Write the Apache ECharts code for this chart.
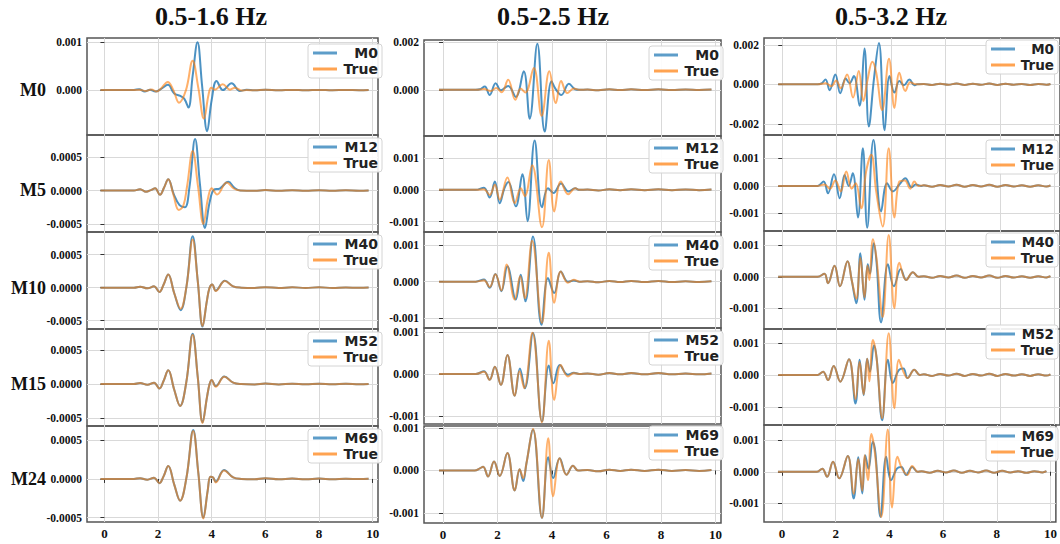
<!DOCTYPE html>
<html><head><meta charset="utf-8">
<script src="https://cdn.jsdelivr.net/npm/echarts@6/dist/echarts.min.js"></script>
<style>html,body{margin:0;padding:0;background:#fff}#c{width:1060px;height:544px}</style>
</head><body><div id="c"></div>
<script>
// ---------- DATA ----------
const bandTitles = ['0.5-1.6 Hz', '0.5-2.5 Hz', '0.5-3.2 Hz'];
const rowLabels = ['M0', 'M5', 'M10', 'M15', 'M24'];
const modelNames = ['M0', 'M12', 'M40', 'M52', 'M69'];
const trueName = 'True';
const xTicks = [0, 2, 4, 6, 8, 10];
const xTickLabels = ['0', '2', '4', '6', '8', '10'];

// column 1 values in units of 1e-4, columns 2 and 3 in units of 1e-3
const yTicks16r1 = [0, 10];          const yLabels16r1 = ['0.000', '0.001'];
const yTicks16 = [-5, 0, 5];         const yLabels16 = ['-0.0005', '0.0000', '0.0005'];
const yTicks25r1 = [0, 2];           const yLabels25r1 = ['0.000', '0.002'];
const yTicks25 = [-1, 0, 1];         const yLabels25 = ['-0.001', '0.000', '0.001'];
const yTicks32r1 = [-2, 0, 2];       const yLabels32r1 = ['-0.002', '0.000', '0.002'];
const yTicks32 = [-1, 0, 1];         const yLabels32 = ['-0.001', '0.000', '0.001'];

const tail16 = [[5.6,-0.05],[6.0,0.08],[6.5,-0.05],[7.0,0.05],[7.5,-0.03],[8.0,0.05],[8.5,-0.03],[9.0,0.03],[9.5,-0.02],[9.85,0.02]];
const tail25 = [[5.3,0.01],[5.7,-0.02],[6.1,0.02],[6.5,-0.01],[6.9,0.02],[7.4,-0.01],[7.9,0.02],[8.4,-0.01],[8.9,0.01],[9.4,-0.01],[9.85,0.01]];
const tail32 = [[5.2,0.02],[5.5,-0.03],[5.8,0.03],[6.1,-0.02],[6.4,0.04],[6.7,-0.03],[7.0,0.03],[7.3,-0.02],[7.6,0.04],[7.9,-0.03],[8.2,0.03],[8.5,-0.02],[8.8,0.02],[9.1,-0.03],[9.4,0.02],[9.7,-0.02],[9.85,0.02]];

// 0.5-1.6 Hz
const m16r1 = [[-0.15,0],[1.1,0.05],[1.3,0.2],[1.5,-0.3],[1.7,0.1],[1.9,-0.3],[2.1,0.2],[2.37,1.1],[2.6,-0.7],[2.83,-1.2],[2.98,-1.8],[3.13,-3.6],[3.29,3.0],[3.47,9.9],[3.64,1.0],[3.83,-8.5],[4.0,-2.0],[4.18,1.9],[4.42,0.0],[4.74,1.4],[5.05,-0.2],[5.3,0.1]];
const t16r1 = [[-0.15,0],[1.1,0],[1.3,0.1],[1.55,-0.2],[1.75,0.15],[1.95,-0.3],[2.1,0.3],[2.36,1.7],[2.57,0],[2.78,-2.6],[3.04,0],[3.29,6.1],[3.5,0.5],[3.71,-5.9],[3.88,-1.0],[3.98,0.5],[4.12,0.1],[4.41,1.2],[4.68,0.1],[4.87,0.5],[5.12,-0.1],[5.3,0]];
const m16r2 = [[-0.15,0],[1.1,0],[1.33,0.2],[1.55,-0.2],[1.75,0.1],[1.89,0.35],[2.07,-0.65],[2.22,0.4],[2.38,1.7],[2.58,-0.5],[2.8,-2.2],[3.0,-2.5],[3.17,0.5],[3.38,7.7],[3.56,1.0],[3.75,-5.6],[3.92,-1.8],[4.08,0.1],[4.3,0.3],[4.62,1.3],[4.85,0.4],[5.06,0]];
const t16r2 = [[-0.15,0],[1.1,0],[1.33,0.2],[1.55,-0.2],[1.75,0.1],[1.89,0.35],[2.07,-0.65],[2.22,0.4],[2.38,1.7],[2.57,-0.6],[2.77,-2.9],[2.94,-2.3],[3.08,0.6],[3.29,5.9],[3.49,0.6],[3.69,-5.0],[3.86,-1.2],[4.0,0.35],[4.2,-0.6],[4.56,1.2],[4.82,0.3],[5.06,0]];
const m16r3 = [[-0.15,0],[1.1,0],[1.33,0.15],[1.6,-0.1],[1.85,0.2],[2.05,-0.65],[2.2,0.4],[2.38,2.0],[2.6,-0.8],[2.84,-3.4],[3.06,0.2],[3.29,7.8],[3.48,1.0],[3.66,-5.9],[3.82,-2.0],[3.92,0],[4.02,0.5],[4.15,-0.45],[4.49,1.05],[4.8,0.2],[5.1,0]];
const t16r3 = [[-0.15,0],[1.1,0],[1.33,0.15],[1.6,-0.1],[1.85,0.2],[2.05,-0.65],[2.2,0.4],[2.38,2.0],[2.6,-0.8],[2.84,-3.2],[3.06,0.2],[3.29,7.3],[3.48,1.0],[3.66,-5.8],[3.82,-2.0],[3.92,0],[4.02,0.5],[4.15,-0.5],[4.49,1.0],[4.8,0.2],[5.1,0]];
const m16r4 = [[-0.15,0],[1.1,0],[1.33,0.15],[1.6,-0.1],[1.85,0.2],[2.05,-0.65],[2.2,0.4],[2.38,2.0],[2.6,-0.8],[2.82,-3.2],[3.05,0.2],[3.29,7.35],[3.48,1.0],[3.66,-5.6],[3.82,-2.0],[3.92,0],[4.0,0.6],[4.15,-0.3],[4.47,1.1],[4.8,0.2],[5.1,0]];
const t16r4 = [[-0.15,0],[1.1,0],[1.33,0.15],[1.6,-0.1],[1.85,0.2],[2.05,-0.65],[2.2,0.4],[2.38,2.0],[2.6,-0.8],[2.82,-3.2],[3.05,0.2],[3.29,7.2],[3.48,1.0],[3.66,-5.7],[3.82,-2.0],[3.92,0],[4.0,0.6],[4.15,-0.4],[4.47,1.05],[4.8,0.2],[5.1,0]];
const m16r5 = [[-0.15,0],[1.1,0],[1.33,0.1],[1.6,-0.1],[1.85,0.15],[2.05,-0.55],[2.2,0.3],[2.38,1.67],[2.6,-0.7],[2.82,-2.8],[3.06,0.2],[3.31,6.3],[3.5,0.8],[3.69,-5.0],[3.85,-1.5],[3.95,0.3],[4.05,0.2],[4.15,-0.35],[4.46,1.15],[4.8,0.2],[5.1,0]];
const t16r5 = [[-0.15,0],[1.1,0],[1.33,0.1],[1.6,-0.1],[1.85,0.15],[2.05,-0.55],[2.2,0.3],[2.38,1.67],[2.6,-0.7],[2.82,-2.8],[3.06,0.2],[3.31,6.2],[3.5,0.8],[3.69,-5.1],[3.85,-1.5],[3.95,0.3],[4.05,0.2],[4.15,-0.45],[4.46,1.1],[4.8,0.2],[5.1,0]];

// 0.5-2.5 Hz
const m25r1 = [[-0.15,0],[1.2,0],[1.35,0.02],[1.53,0.14],[1.71,-0.22],[1.93,0.28],[2.12,-0.02],[2.39,0.16],[2.67,-0.3],[2.96,0.78],[3.18,-1.22],[3.46,1.94],[3.73,-1.76],[3.98,0.36],[4.12,0.05],[4.34,-0.22],[4.62,0.25],[4.85,0.02],[5.0,0]];
const t25r1 = [[-0.15,0],[1.2,0],[1.5,0.03],[1.75,-0.05],[1.95,0.08],[2.15,-0.1],[2.39,0.42],[2.65,-0.42],[2.85,0.05],[3.02,-0.12],[3.33,0.92],[3.62,-1.1],[3.9,0.78],[4.14,-0.56],[4.33,0.37],[4.56,-0.14],[4.8,0.05],[5.0,0]];
const m25r2 = [[-0.15,0],[1.2,0],[1.5,0.07],[1.71,-0.24],[1.9,0.26],[2.08,-0.42],[2.25,0.05],[2.4,0.25],[2.67,-0.52],[2.91,0.49],[3.1,-0.99],[3.36,1.56],[3.63,-0.55],[3.85,0.05],[4.05,-0.1],[4.33,0.2],[4.6,-0.05],[4.85,0.05],[5.0,0]];
const t25r2 = [[-0.15,0],[1.2,0],[1.5,0.02],[1.71,-0.16],[1.9,0.16],[2.08,-0.31],[2.36,0.39],[2.63,-0.42],[2.85,0.05],[3.0,-0.2],[3.27,0.78],[3.63,-1.18],[3.88,0.94],[4.08,-0.68],[4.32,0.26],[4.59,-0.14],[4.85,0.05],[5.0,0]];
const m25r3 = [[-0.15,0],[1.2,0],[1.5,0.06],[1.71,-0.17],[1.92,0.21],[2.14,-0.26],[2.36,0.42],[2.67,-0.49],[2.85,0.19],[3.02,-0.54],[3.3,1.24],[3.61,-1.18],[3.85,0.1],[4.08,-0.31],[4.32,0.28],[4.58,0.0],[4.8,0.03],[5.0,0]];
const t25r3 = [[-0.15,0],[1.2,0],[1.5,0.04],[1.71,-0.15],[1.92,0.2],[2.14,-0.24],[2.33,0.47],[2.63,-0.49],[2.83,0.15],[3.0,-0.45],[3.27,1.12],[3.63,-1.13],[3.88,0.79],[4.08,-0.58],[4.32,0.28],[4.58,-0.03],[4.8,0.05],[5.0,0]];
const m25r4 = [[-0.15,0],[1.2,0],[1.5,0.06],[1.71,-0.14],[1.9,0.17],[2.12,-0.26],[2.36,0.45],[2.63,-0.52],[2.82,0.13],[3.0,-0.34],[3.3,0.97],[3.63,-1.13],[3.88,0.2],[4.05,-0.22],[4.28,0.21],[4.58,-0.02],[4.8,0.03],[5.0,0]];
const t25r4 = [[-0.15,0],[1.2,0],[1.5,0.05],[1.71,-0.14],[1.9,0.17],[2.12,-0.26],[2.36,0.45],[2.63,-0.52],[2.8,0.06],[2.98,-0.34],[3.28,0.98],[3.63,-1.15],[3.88,0.79],[4.08,-0.62],[4.32,0.21],[4.58,-0.06],[4.8,0.02],[5.0,0]];
const m25r5 = [[-0.15,0],[1.16,0],[1.35,0.05],[1.47,0.09],[1.65,-0.14],[1.87,0.21],[2.08,-0.13],[2.36,0.41],[2.63,-0.47],[2.81,0.03],[2.94,-0.25],[3.06,0.17],[3.3,0.96],[3.63,-1.12],[3.86,0.31],[4.04,-0.18],[4.28,0.29],[4.53,-0.1],[4.77,0.11],[4.95,0]];
const t25r5 = [[-0.15,0],[1.16,0],[1.35,0.05],[1.47,0.09],[1.65,-0.14],[1.87,0.21],[2.08,-0.13],[2.36,0.41],[2.63,-0.47],[2.81,0.03],[2.94,-0.18],[3.06,0.17],[3.3,0.98],[3.63,-1.12],[3.86,0.76],[4.04,-0.61],[4.28,0.29],[4.53,-0.1],[4.77,0.11],[4.95,0]];

// 0.5-3.2 Hz
const m32r1 = [[-0.15,0],[1.3,0],[1.45,0.05],[1.59,0.25],[1.74,-0.3],[1.95,0.5],[2.13,-0.45],[2.33,0.3],[2.47,0.05],[2.63,0.42],[2.84,-1.09],[3.02,1.82],[3.18,-2.14],[3.37,0.3],[3.55,2.1],[3.76,-2.33],[3.94,0.42],[4.12,-0.42],[4.3,0.17],[4.47,-0.05],[4.67,0.25],[4.85,-0.05],[4.95,0]];
const t32r1 = [[-0.15,0],[1.3,0],[1.6,0.05],[1.8,-0.1],[1.98,0.2],[2.15,-0.2],[2.38,0.5],[2.6,-0.67],[2.81,0.67],[2.98,-0.84],[3.13,0.2],[3.31,1.15],[3.45,0.6],[3.67,-1.3],[3.92,1.3],[4.12,-1.2],[4.3,0.59],[4.52,-0.34],[4.7,0.1],[4.9,0]];
const m32r2 = [[-0.15,0],[1.3,0],[1.52,0.16],[1.68,-0.27],[1.9,0.42],[2.11,-0.45],[2.29,0.4],[2.44,0.0],[2.59,0.46],[2.78,-1.15],[2.96,1.37],[3.12,-1.52],[3.35,1.67],[3.63,-0.93],[3.85,0.1],[4.06,-0.2],[4.3,0.05],[4.52,0.28],[4.75,-0.05],[4.9,0.05],[5.1,0]];
const t32r2 = [[-0.15,0],[1.3,0],[1.55,0.05],[1.75,-0.1],[1.95,0.2],[2.15,-0.2],[2.35,0.52],[2.55,-0.1],[2.7,0.1],[2.9,-0.81],[3.08,0.52],[3.27,1.13],[3.45,-0.2],[3.69,-1.48],[3.91,1.37],[4.12,-1.15],[4.3,0.16],[4.5,0.2],[4.7,-0.1],[4.85,0.16],[5.0,0]];
const m32r3 = [[-0.15,0],[1.3,0],[1.55,0.1],[1.68,-0.2],[1.92,0.35],[2.12,-0.3],[2.4,0.5],[2.55,-0.1],[2.72,-0.84],[2.87,0.75],[3.02,-0.73],[3.14,0.4],[3.22,0.1],[3.36,1.07],[3.46,0.5],[3.63,-1.45],[3.88,0.4],[4.1,-0.3],[4.35,0.25],[4.55,-0.1],[4.8,0.15],[5.0,0]];
const t32r3 = [[-0.15,0],[1.3,0],[1.55,0.1],[1.68,-0.2],[1.92,0.35],[2.12,-0.3],[2.4,0.5],[2.55,-0.1],[2.72,-0.7],[2.87,0.6],[3.02,-0.65],[3.13,0.35],[3.2,-0.1],[3.33,1.2],[3.46,0.6],[3.69,-1.28],[3.91,1.33],[4.12,-1.0],[4.3,0.45],[4.55,-0.1],[4.8,0.15],[5.0,0]];
const m32r4 = [[-0.15,0],[1.3,0],[1.5,0.1],[1.68,-0.16],[1.89,0.28],[2.13,-0.21],[2.45,0.49],[2.69,-0.89],[2.84,0.47],[2.99,-0.63],[3.12,0.5],[3.22,0.1],[3.37,0.92],[3.47,0.5],[3.67,-1.41],[3.88,0.47],[4.06,-0.25],[4.28,0.15],[4.45,0.2],[4.6,-0.1],[4.85,0.16],[5.05,0]];
const t32r4 = [[-0.15,0],[1.3,0],[1.5,0.1],[1.68,-0.16],[1.89,0.28],[2.13,-0.21],[2.45,0.49],[2.69,-0.75],[2.84,0.4],[2.99,-0.6],[3.12,0.5],[3.2,-0.2],[3.33,1.09],[3.46,0.55],[3.67,-1.35],[3.91,1.3],[4.12,-1.04],[4.28,0.47],[4.45,0.1],[4.6,-0.1],[4.85,0.16],[5.05,0]];
const m32r5 = [[-0.15,0],[1.3,0],[1.5,0.1],[1.68,-0.16],[1.9,0.32],[2.13,-0.21],[2.45,0.5],[2.67,-0.85],[2.84,0.46],[2.99,-0.69],[3.1,0.53],[3.22,0.1],[3.38,0.96],[3.48,0.6],[3.67,-1.44],[3.88,0.48],[4.06,-0.27],[4.28,0.1],[4.45,0.15],[4.62,-0.1],[4.85,0.15],[5.05,0]];
const t32r5 = [[-0.15,0],[1.3,0],[1.5,0.1],[1.68,-0.16],[1.9,0.32],[2.13,-0.21],[2.45,0.5],[2.67,-0.7],[2.84,0.4],[2.99,-0.6],[3.08,0.53],[3.2,-0.27],[3.33,1.2],[3.46,0.6],[3.7,-1.44],[3.94,1.35],[4.1,-1.14],[4.3,0.48],[4.47,0.1],[4.67,-0.1],[4.85,0.18],[5.05,0]];

// ---------- LAYOUT ----------
const colLayout = [
  {left: 87, width: 291, min: -0.65, max: 10.2, legLeft: 308, titleX: 211},
  {left: 424, width: 297, min: -0.7, max: 10.2, legLeft: 649, titleX: 553},
  {left: 764, width: 297, min: -0.67, max: 10.2, legLeft: 986, titleX: 891}
];
const rowBounds = [
  [[38,135],[135,232],[232,329],[329,426],[426,522]],
  [[40,136],[136,232],[232,328],[328,424],[426,523]],
  [[38,135],[135,231],[231,329],[329,425],[425,522]]
];
const legTops = [[44,138,235,332,429],[46,139,236,331,426],[40,140,233,325,427]];
const rowLabelY = [90, 190, 288, 384, 479];

const panels = [
  {c:0,r:0,m:m16r1,t:t16r1,tail:tail16,yr:[-9.3,10.8],yt:yTicks16r1,yl:yLabels16r1},
  {c:0,r:1,m:m16r2,t:t16r2,tail:tail16,yr:[-6.21,8.31],yt:yTicks16,yl:yLabels16},
  {c:0,r:2,m:m16r3,t:t16r3,tail:tail16,yr:[-6.26,8.44],yt:yTicks16,yl:yLabels16},
  {c:0,r:3,m:m16r4,t:t16r4,tail:tail16,yr:[-6.13,8.04],yt:yTicks16,yl:yLabels16},
  {c:0,r:4,m:m16r5,t:t16r5,tail:tail16,yr:[-5.55,6.83],yt:yTicks16,yl:yLabels16},
  {c:1,r:0,m:m25r1,t:t25r1,tail:tail25,yr:[-1.95,2.1],yt:yTicks25r1,yl:yLabels25r1},
  {c:1,r:1,m:m25r2,t:t25r2,tail:tail25,yr:[-1.33,1.7],yt:yTicks25,yl:yLabels25},
  {c:1,r:2,m:m25r3,t:t25r3,tail:tail25,yr:[-1.27,1.36],yt:yTicks25,yl:yLabels25},
  {c:1,r:3,m:m25r4,t:t25r4,tail:tail25,yr:[-1.19,1.09],yt:yTicks25,yl:yLabels25},
  {c:1,r:4,m:m25r5,t:t25r5,tail:tail25,yr:[-1.24,1.05],yt:yTicks25,yl:yLabels25},
  {c:2,r:0,m:m32r1,t:t32r1,tail:tail32,yr:[-2.57,2.35],yt:yTicks32r1,yl:yLabels32r1},
  {c:2,r:1,m:m32r2,t:t32r2,tail:tail32,yr:[-1.64,1.85],yt:yTicks32,yl:yLabels32},
  {c:2,r:2,m:m32r3,t:t32r3,tail:tail32,yr:[-1.66,1.46],yt:yTicks32,yl:yLabels32},
  {c:2,r:3,m:m32r4,t:t32r4,tail:tail32,yr:[-1.56,1.43],yt:yTicks32,yl:yLabels32},
  {c:2,r:4,m:m32r5,t:t32r5,tail:tail32,yr:[-1.6,1.49],yt:yTicks32,yl:yLabels32}
];

const serif = '"Liberation Serif", "Times New Roman", serif';
const grids = [], xAxes = [], yAxes = [], series = [], legends = [];
const gridLine = {show: true, lineStyle: {color: '#d9d9d9', width: 1}};

panels.forEach((p, i) => {
  const L = colLayout[p.c];
  const B = rowBounds[p.c][p.r];
  const bottom = p.r === 4;
  const lastCol = p.c === 2;
  grids.push({left: L.left, top: B[0], width: L.width, height: B[1] - B[0],
    show: true, borderColor: '#555', borderWidth: 1.5, backgroundColor: 'transparent'});
  xAxes.push({type: 'value', gridIndex: i, min: L.min, max: L.max,
    axisLine: {show: false},
    axisTick: {show: bottom, customValues: xTicks, length: 4, lineStyle: {color: '#333'}},
    axisLabel: {show: bottom, customValues: xTicks,
      formatter: v => { const k = xTicks.indexOf(v); return k < 0 ? '' : xTickLabels[k]; },
      fontFamily: serif, fontWeight: 'bold', fontSize: 13, color: '#111', margin: 5},
    splitLine: gridLine});
  yAxes.push({type: 'value', gridIndex: i, min: p.yr[0], max: p.yr[1],
    axisLine: {show: false},
    axisTick: {show: true, customValues: p.yt, length: 4, lineStyle: {color: '#333'}},
    axisLabel: {customValues: p.yt,
      formatter: v => { const k = p.yt.indexOf(v); return k < 0 ? '' : p.yl[k]; },
      fontFamily: serif, fontWeight: 'bold', fontSize: 11.5, color: '#111', margin: 5},
    splitLine: gridLine});
  series.push({name: modelNames[p.r], type: 'line', xAxisIndex: i, yAxisIndex: i,
    data: p.m.concat(p.tail), symbol: 'none', showSymbol: false, smooth: 0.4,
    lineStyle: {color: '#1f77b4', width: 2, opacity: 0.8}, itemStyle: {color: '#1f77b4'}, z: 2});
  series.push({name: trueName, type: 'line', xAxisIndex: i, yAxisIndex: i,
    data: p.t.concat(p.tail), symbol: 'none', showSymbol: false, smooth: 0.4,
    lineStyle: {color: '#ff7f0e', width: 2, opacity: 0.62}, itemStyle: {color: '#ff7f0e'}, z: 3});
  legends.push({orient: 'vertical', left: L.legLeft, top: legTops[p.c][p.r],
    data: [modelNames[p.r], trueName], selectedMode: false,
    icon: 'rect', itemWidth: 24, itemHeight: 3, itemGap: 2, padding: [2, 4, 2, 5],
    itemStyle: {opacity: 0.72},
    backgroundColor: 'rgba(255,255,255,0.9)', borderColor: '#d4d4d4', borderWidth: 1, borderRadius: 3,
    formatter: n => '{a|' + n + '}',
    textStyle: {rich: {a: {width: lastCol ? 34 : 36, align: 'right', fontFamily: '"DejaVu Sans", sans-serif',
      fontWeight: 'bold', fontSize: lastCol ? 13.5 : 14, color: '#222', lineHeight: 18}}}});
});

const graphics = [];
bandTitles.forEach((t, i) => graphics.push({type: 'text', x: colLayout[i].titleX, y: 16,
  style: {text: t, font: 'bold 26px ' + serif, fill: '#111', align: 'center', verticalAlign: 'middle'}}));
rowLabels.forEach((t, i) => graphics.push({type: 'text', x: 46, y: rowLabelY[i],
  style: {text: t, font: 'bold 18px ' + serif, fill: '#111', align: 'right', verticalAlign: 'middle'}}));

const chart = echarts.init(document.getElementById('c'), null, {renderer: 'svg'});
chart.setOption({
  animation: false,
  backgroundColor: '#fff',
  grid: grids, xAxis: xAxes, yAxis: yAxes, series: series, legend: legends,
  graphic: graphics
});
</script></body></html>
